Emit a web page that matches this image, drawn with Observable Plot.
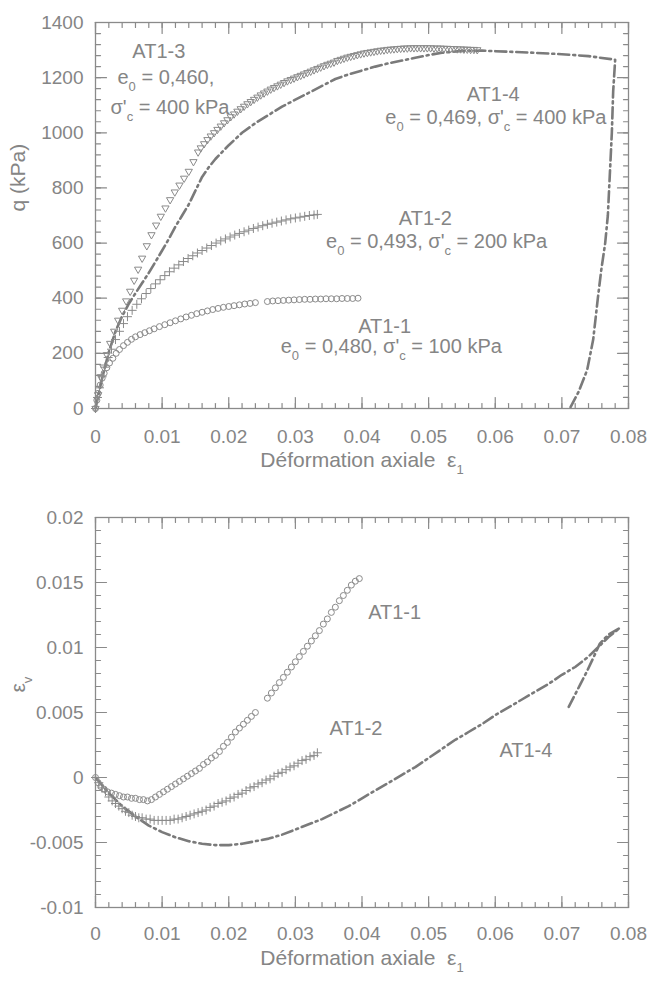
<!DOCTYPE html>
<html>
<head>
<meta charset="utf-8">
<script src="https://cdn.jsdelivr.net/npm/d3@7"></script>
<script src="https://cdn.jsdelivr.net/npm/@observablehq/plot@0.6"></script>
<style>
  html, body { margin: 0; padding: 0; background: #fff; }
  svg { display: block; }
</style>
</head>
<body>
<div id="chart"></div>
<script>
// ---------------- DATA ----------------
// Top panel: q (kPa) vs axial strain
const e11 = [0,.0002,.0004,.0007,.001,.0013,.0017,.0021,.0026,.0031,.0036,.0042,.0048,.0054,.006,.0067,.0074,.0081,.0088,.0096,.0104,.0112,.012,.0128,.0136,.0144,.0152,.016,.0168,.0176,.0184,.0192,.02,.0208,.0216,.0224,.0232,.024,.0258,.0266,.0274,.0282,.029,.0298,.0306,.0314,.0322,.033,.0338,.0346,.0354,.0362,.037,.0378,.0386,.0394];
const q11 = [0,30,55,85,110,128,148,165,182,200,214,228,240,251,260,268,275,282,289,297,304,311,318,325,332,338,344,349,354,359,363,367,370,373,376,379,381,384,388,390,391,392,393,394,395,396,396,397,397,398,398,398,399,399,399,400];

const e12 = [0,.0003,.0006,.001,.0014,.0019,.0024,.003,.0036,.0042,.0048,.0055,.0062,.0069,.0076,.0083,.009,.0097,.0104,.0111,.0118,.0125,.0132,.0139,.0146,.0153,.016,.0167,.0174,.0181,.0188,.0195,.0202,.0209,.0216,.0223,.023,.0237,.0244,.0251,.0258,.0265,.0272,.0279,.0286,.0293,.03,.0307,.0314,.0321,.0328,.0333];
const q12 = [0,40,75,115,150,185,215,250,280,308,333,356,378,398,417,435,452,467,482,496,509,521,533,544,554,564,573,582,591,600,608,615,622,629,635,641,647,653,658,663,668,672,676,680,684,688,691,694,697,700,702,704];

const e13 = [0,.0004,.0008,.0012,.0017,.0022,.0028,.0034,.004,.0046,.0052,.0058,.0064,.007,.0077,.0084,.0091,.0098,.0105,.0112,.0119,.0126,.0133,.014,.0147,.0154,.0158,.0163,.0168,.0173,.0178,.0183,.0188,.0193,.0198,.0203,.0208,.0213,.0218,.0223,.0228,.0233,.0238,.0243,.0248,.0253,.0258,.0263,.0268,.0273,.0278,.0283,.0288,.0293,.0298,.0303,.0308,.0313,.0318,.0323,.0328,.0333,.0338,.0343,.0348,.0353,.0358,.0363,.0368,.0373,.0378,.0383,.0388,.0393,.0398,.0403,.0408,.0413,.0418,.0423,.0428,.0433,.0438,.0443,.0448,.0453,.0458,.0463,.0468,.0473,.0478,.0483,.0488,.0493,.0498,.0503,.0508,.0513,.0518,.0523,.0528,.0533,.0538,.0543,.0548,.0553,.0558,.0563,.0568,.0573];
const q13 = [0,50,115,150,195,236,280,320,356,390,425,465,505,545,590,630,665,697,727,757,785,810,835,860,895,930,945,960,975,988,1000,1012,1024,1036,1047,1058,1068,1078,1087,1096,1105,1113,1121,1129,1137,1144,1151,1158,1164,1170,1176,1182,1188,1193,1198,1203,1208,1213,1218,1223,1228,1233,1238,1243,1248,1252,1256,1262,1266,1270,1274,1277,1280,1283,1286,1289,1291,1293,1295,1297,1299,1300,1302,1303,1304,1305,1306,1307,1307,1308,1308,1308,1308,1308,1308,1308,1307,1307,1307,1306,1306,1305,1305,1304,1304,1303,1303,1302,1302,1301];

const e14 = [0,.001,.002,.003,.004,.005,.006,.007,.008,.009,.01,.011,.012,.013,.014,.015,.016,.017,.018,.019,.02,.022,.024,.026,.028,.03,.032,.034,.036,.038,.04,.042,.044,.046,.048,.05,.052,.055,.058,.062,.066,.07,.074,.078,.0777,.0775,.0772,.0769,.0765,.0759,.0754,.0747,.0738,.0725,.0712];
const q14 = [0,110,205,280,335,380,418,455,492,532,573,615,660,700,740,790,840,875,905,930,955,1000,1035,1065,1095,1120,1145,1170,1195,1212,1226,1240,1252,1262,1272,1282,1290,1297,1298,1294,1290,1285,1278,1265,1150,1000,850,700,600,500,400,250,140,60,0];

// Bottom panel: volumetric strain vs axial strain
const be11 = [0,.0004,.0008,.0013,.0018,.0024,.003,.0036,.0042,.0048,.0054,.006,.0066,.0072,.0078,.0084,.009,.0096,.0102,.0108,.0114,.012,.0126,.0132,.0138,.0144,.015,.0156,.0162,.0168,.0174,.018,.0186,.0192,.0198,.0204,.021,.0216,.0222,.0228,.0234,.024,.0258,.0264,.027,.0276,.0282,.0288,.0294,.03,.0306,.0312,.0318,.0324,.033,.0336,.0342,.0348,.0354,.036,.0366,.0372,.0378,.0384,.039,.0396];
const bv11 = [0,-.0004,-.0007,-.0009,-.0011,-.0012,-.0013,-.0014,-.0015,-.0015,-.0016,-.0016,-.0017,-.0017,-.0018,-.0017,-.0015,-.0013,-.0011,-.0009,-.0007,-.0005,-.0003,-.0001,.0001,.0003,.0005,.0007,.001,.0012,.0015,.0017,.002,.0024,.0027,.0031,.0035,.0038,.0041,.0044,.0047,.005,.0061,.0065,.0069,.0073,.0077,.0081,.0085,.0089,.0093,.0097,.0101,.0105,.0109,.0113,.0118,.0122,.0127,.0131,.0136,.014,.0144,.0148,.0151,.0153];

const be12 = [0,.0005,.001,.0015,.002,.0025,.003,.0035,.004,.0045,.005,.0055,.006,.0065,.007,.0076,.0082,.0088,.0094,.01,.0106,.0112,.0118,.0124,.013,.0136,.0142,.0148,.0154,.016,.0166,.0172,.0178,.0184,.019,.0196,.0202,.0208,.0214,.022,.0226,.0232,.0238,.0244,.025,.0256,.0262,.0268,.0274,.028,.0286,.0292,.0298,.0304,.031,.0316,.0322,.0328,.0333];
const bv12 = [0,-.0004,-.0008,-.0011,-.0015,-.0018,-.002,-.0022,-.0024,-.0026,-.0027,-.0029,-.003,-.0031,-.0031,-.0032,-.0032,-.0033,-.0033,-.0033,-.0033,-.0033,-.0032,-.0032,-.0031,-.003,-.0029,-.0028,-.0027,-.0026,-.0025,-.0023,-.0022,-.002,-.0019,-.0018,-.0016,-.0015,-.0013,-.0012,-.001,-.0008,-.0007,-.0005,-.0004,-.0002,-.0001,.0001,.0003,.0004,.0006,.0008,.0009,.0011,.0013,.0014,.0016,.0017,.0019];

const be14 = [0,.002,.004,.006,.008,.01,.012,.014,.016,.018,.02,.022,.024,.026,.028,.03,.032,.034,.036,.038,.04,.042,.044,.046,.048,.05,.052,.054,.056,.058,.06,.062,.064,.066,.068,.07,.072,.074,.076,.077,.0787,.077,.0757,.0748,.0738,.0728,.0718,.0709];
const bv14 = [0,-.0012,-.0022,-.003,-.0037,-.0042,-.0046,-.0049,-.0051,-.0052,-.0052,-.0051,-.0049,-.0047,-.0044,-.004,-.0036,-.0032,-.0027,-.0022,-.0016,-.001,-.0004,.0002,.0008,.0015,.0022,.0029,.0035,.0041,.0048,.0054,.006,.0066,.0072,.0079,.0085,.0093,.0103,.0108,.0115,.011,.0103,.0093,.0082,.0072,.0062,.0053];

// Tick labels
const xTicks = [0, 0.01, 0.02, 0.03, 0.04, 0.05, 0.06, 0.07, 0.08];
const qTicks = [0, 200, 400, 600, 800, 1000, 1200, 1400];
const evTicks = [-0.01, -0.005, 0, 0.005, 0.01, 0.015, 0.02];

// ---------------- STYLE ----------------
const textGrey = "#858585";
const markGrey = "#8a8a8a";
const lineGrey = "#7a7a7a";
const font = "'Liberation Sans', Arial, Helvetica, sans-serif";

const zip = (xs, ys) => xs.map((x, i) => ({x, y: ys[i]}));

const xMinor = d3.range(0, 0.0801, 0.002);
const qMinor = d3.range(0, 1401, 40);
const evMinor = d3.range(-0.01, 0.02001, 0.001);

// Inward tick segments on all four sides, expressed in data units so that
// they are drawn by Plot's own scales (L and S are the tick lengths in px).
function tickSegments(xMaj, xMin, yMaj, yMin, xDom, yDom, W, H) {
  const L = 11, S = 5;
  const ux = (xDom[1] - xDom[0]) / W, uy = (yDom[1] - yDom[0]) / H;
  const segs = [];
  let id = 0;
  const addX = (t, len) => {
    segs.push({id, x: t, y: yDom[0]}, {id, x: t, y: yDom[0] + len * uy}); id++;
    segs.push({id, x: t, y: yDom[1]}, {id, x: t, y: yDom[1] - len * uy}); id++;
  };
  const addY = (t, len) => {
    segs.push({id, x: xDom[0], y: t}, {id, x: xDom[0] + len * ux, y: t}); id++;
    segs.push({id, x: xDom[1], y: t}, {id, x: xDom[1] - len * ux, y: t}); id++;
  };
  xMin.forEach(t => addX(t, S));
  xMaj.forEach(t => addX(t, L));
  yMin.forEach(t => addY(t, S));
  yMaj.forEach(t => addY(t, L));
  return Plot.line(segs, {x: "x", y: "y", z: "id", stroke: markGrey, strokeWidth: 1.2, curve: "linear"});
}

const dashDot = {stroke: lineGrey, strokeWidth: 2.6, strokeDasharray: "11,4,2,4", curve: "linear"};
const markerStyle = {stroke: markGrey, fill: "none", strokeWidth: 1};

const note = (text, x, y, anchor = "middle") => Plot.text([text], {x: () => x, y: () => y, text: d => d, textAnchor: anchor, fill: textGrey, fontSize: 20});

// ---------------- TOP PANEL ----------------
const topPlot = Plot.plot({
  width: 654, height: 480,
  marginLeft: 95, marginRight: 26, marginTop: 22, marginBottom: 72,
  style: {fontFamily: font, fontSize: "19px", color: textGrey, background: "white", overflow: "visible"},
  x: {domain: [0, 0.08], label: null},
  y: {domain: [0, 1400], label: null},
  marks: [
    Plot.axisX(xTicks, {anchor: "bottom", tickSize: 0, tickPadding: 21, tickFormat: d => String(d), label: null, fill: textGrey}),
    Plot.axisY(qTicks, {anchor: "left", tickSize: 0, tickPadding: 12, tickFormat: d => String(d), label: null, fill: textGrey}),
    tickSegments(xTicks, xMinor, qTicks, qMinor, [0, 0.08], [0, 1400], 533, 386),
    Plot.line(zip(e14, q14), {x: "x", y: "y", ...dashDot}),
    Plot.dot(zip(e11, q11), {x: "x", y: "y", symbol: "circle", r: 3, ...markerStyle}),
    Plot.dot(zip(e12, q12), {x: "x", y: "y", symbol: "plus", r: 3, ...markerStyle}),
    Plot.dot(zip(e13, q13), {x: "x", y: "y", symbol: "triangle", r: 2.7, rotate: 180, ...markerStyle}),
    note("AT1-3", 0.0095, 1295),
    note("e_{0} = 0,460,", 0.0033, 1200, "start"),
    note("σ'_{c} = 400 kPa", 0.00225, 1092, "start"),
    note("AT1-4", 0.0597, 1139),
    note("e_{0} = 0,469, σ'_{c} = 400 kPa", 0.0601, 1055),
    note("AT1-2", 0.0495, 689),
    note("e_{0} = 0,493, σ'_{c} = 200 kPa", 0.0512, 606),
    note("AT1-1", 0.0434, 297),
    note("e_{0} = 0,480, σ'_{c} = 100 kPa", 0.0444, 225),
    Plot.text(["Déformation axiale  ε_{1}"], {frameAnchor: "bottom", dy: 58, text: d => d, fill: textGrey, fontSize: 21}),
    Plot.text(["q (kPa)"], {frameAnchor: "left", dx: -77, dy: -4, rotate: -90, text: d => d, fill: textGrey, fontSize: 21}),
    Plot.frame({stroke: markGrey, strokeWidth: 1.3})
  ]
});

// ---------------- BOTTOM PANEL ----------------
const botPlot = Plot.plot({
  width: 654, height: 508,
  marginLeft: 95, marginRight: 26, marginTop: 37, marginBottom: 81,
  style: {fontFamily: font, fontSize: "19px", color: textGrey, background: "white", overflow: "visible"},
  x: {domain: [0, 0.08], label: null},
  y: {domain: [-0.01, 0.02], label: null},
  marks: [
    Plot.axisX(xTicks, {anchor: "bottom", tickSize: 0, tickPadding: 19, tickFormat: d => String(d), label: null, fill: textGrey}),
    Plot.axisY(evTicks, {anchor: "left", tickSize: 0, tickPadding: 12, tickFormat: d => String(d), label: null, fill: textGrey}),
    tickSegments(xTicks, xMinor, evTicks, evMinor, [0, 0.08], [-0.01, 0.02], 533, 390),
    Plot.line(zip(be14, bv14), {x: "x", y: "y", ...dashDot}),
    Plot.dot(zip(be11, bv11), {x: "x", y: "y", symbol: "circle", r: 3, ...markerStyle}),
    Plot.dot(zip(be12, bv12), {x: "x", y: "y", symbol: "plus", r: 3, ...markerStyle}),
    note("AT1-1", 0.0449, 0.0127),
    note("AT1-2", 0.0391, 0.0038),
    note("AT1-4", 0.0646, 0.0021),
    Plot.text(["Déformation axiale  ε_{1}"], {frameAnchor: "bottom", dy: 57, text: d => d, fill: textGrey, fontSize: 21}),
    Plot.text(["ε_{v}"], {frameAnchor: "left", dx: -77, dy: -20, rotate: -90, text: d => d, fill: textGrey, fontSize: 21}),
    Plot.frame({stroke: markGrey, strokeWidth: 1.3})
  ]
});

// Turn "_{..}" into real subscript tspans
function subscripts(svg) {
  const NS = "http://www.w3.org/2000/svg";
  svg.querySelectorAll("text").forEach(t => {
    const s = t.textContent;
    if (!s.includes("_{")) return;
    const parts = s.split(/(_\{[^}]*\})/);
    while (t.firstChild) t.removeChild(t.firstChild);
    let shifted = false;
    for (const p of parts) {
      if (!p) continue;
      const ts = document.createElementNS(NS, "tspan");
      if (p.startsWith("_{")) {
        ts.textContent = p.slice(2, -1);
        ts.setAttribute("dy", "7");
        ts.setAttribute("font-size", "13");
        shifted = true;
      } else {
        ts.textContent = p;
        if (shifted) { ts.setAttribute("dy", "-7"); shifted = false; }
      }
      t.appendChild(ts);
    }
  });
}
subscripts(topPlot);
subscripts(botPlot);

const root = document.getElementById("chart");
root.appendChild(topPlot);
root.appendChild(botPlot);
</script>
</body>
</html>
